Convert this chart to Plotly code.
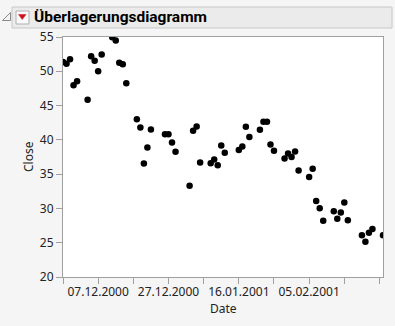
import plotly.graph_objects as go

# ---- data ----
dates = [
    "2000-11-27", "2000-11-28", "2000-11-29", "2000-11-30", "2000-12-01",
    "2000-12-04", "2000-12-05", "2000-12-06", "2000-12-07", "2000-12-08",
    "2000-12-11", "2000-12-12", "2000-12-13", "2000-12-14", "2000-12-15",
    "2000-12-18", "2000-12-19", "2000-12-20", "2000-12-21", "2000-12-22",
    "2000-12-26", "2000-12-27", "2000-12-28", "2000-12-29",
    "2001-01-02", "2001-01-03", "2001-01-04", "2001-01-05",
    "2001-01-08", "2001-01-09", "2001-01-10", "2001-01-11", "2001-01-12",
    "2001-01-16", "2001-01-17", "2001-01-18", "2001-01-19",
    "2001-01-22", "2001-01-23", "2001-01-24", "2001-01-25", "2001-01-26",
    "2001-01-29", "2001-01-30", "2001-01-31", "2001-02-01", "2001-02-02",
    "2001-02-05", "2001-02-06", "2001-02-07", "2001-02-08", "2001-02-09",
    "2001-02-12", "2001-02-13", "2001-02-14", "2001-02-15", "2001-02-16",
    "2001-02-20", "2001-02-21", "2001-02-22", "2001-02-23",
    "2001-02-26",
]
close = [
    51.35, 51.10, 51.75, 47.95, 48.54,
    45.86, 52.19, 51.52, 50.00, 52.44,
    54.95, 54.50, 51.23, 51.02, 48.25,
    43.00, 41.81, 36.55, 38.89, 41.52,
    40.80, 40.80, 39.62, 38.26,
    33.29, 41.33, 41.96, 36.70,
    36.60, 37.13, 36.30, 39.18, 38.11,
    38.51, 39.04, 41.92, 40.41,
    41.48, 42.65, 42.65, 39.33, 38.41,
    37.28, 38.01, 37.49, 38.30, 35.53,
    34.60, 35.77, 31.10, 30.03, 28.22,
    29.59, 28.51, 29.39, 30.85, 28.27,
    26.08, 25.15, 26.46, 27.00,
    26.08,
]
x_tick_vals = ["2000-11-27", "2000-12-07", "2000-12-17", "2000-12-27", "2001-01-06",
               "2001-01-16", "2001-01-26", "2001-02-05", "2001-02-15", "2001-02-25"]
x_tick_text = ["", "07.12.2000", "", "27.12.2000", "",
               "16.01.2001", "", "05.02.2001", "", ""]
y_tick_vals = [20, 25, 30, 35, 40, 45, 50, 55]
title_text = "Überlagerungsdiagramm"
x_title = "Date"
y_title = "Close"

W, H = 395, 326
L, R, T, B = 63, 12, 37, 49
PW, PH = W - L - R, H - T - B


def px(xp):
    return (xp - L) / PW


def py(yp):
    return (H - B - yp) / PH


FONT = "Noto Sans, Segoe UI, sans-serif"
TFONT = "Roboto, Noto Sans, sans-serif"
AXC = "#a0a0a0"

fig = go.Figure()
fig.add_trace(go.Scatter(
    x=dates, y=close, mode="markers",
    marker=dict(color="black", size=6.5, line=dict(width=0)),
    hoverinfo="x+y",
))

shapes = [
    # title bar
    dict(type="rect", xref="paper", yref="paper",
         x0=px(12), x1=px(392), y0=py(28), y1=py(7),
         fillcolor="#ebebeb", line=dict(color="#c8c8c8", width=1)),
    # disclosure triangle
    dict(type="path", xref="paper", yref="paper",
         path=f"M {px(10.5)} {py(12.5)} L {px(10.5)} {py(20.5)} L {px(2.5)} {py(20.5)} Z",
         fillcolor="#f4f4f4", line=dict(color="#8a8a8a", width=1)),
    # red menu button box
    dict(type="rect", xref="paper", yref="paper",
         x0=px(16), x1=px(29), y0=py(24), y1=py(11),
         fillcolor="#fafafa", line=dict(color="#b0b0b0", width=1)),
    # red triangle
    dict(type="path", xref="paper", yref="paper",
         path=f"M {px(18.5)} {py(14.5)} L {px(26)} {py(14.5)} L {px(22.25)} {py(19.5)} Z",
         fillcolor="#d0101a", line=dict(color="#d0101a", width=0.5)),
]

annotations = [
    dict(text=f"<b>{title_text}</b>", xref="paper", yref="paper",
         x=px(31.5), y=py(17.5), xanchor="left", yanchor="middle",
         showarrow=False, font=dict(family=TFONT, size=15.5, color="black")),
    dict(text=x_title, xref="paper", yref="paper",
         x=0.5, y=py(308), xanchor="center", yanchor="middle",
         showarrow=False, font=dict(family=FONT, size=12, color="#222")),
    dict(text=y_title, xref="paper", yref="paper",
         x=px(28), y=0.5, xanchor="center", yanchor="middle", textangle=-90,
         showarrow=False, font=dict(family=FONT, size=12, color="#222")),
]

fig.update_layout(
    width=W, height=H, autosize=False,
    margin=dict(l=L, r=R, t=T, b=B, pad=0),
    paper_bgcolor="#f5f5f5", plot_bgcolor="white",
    showlegend=False,
    shapes=shapes, annotations=annotations,
    font=dict(family=FONT, size=12, color="#222"),
    xaxis=dict(
        type="date", range=["2000-11-27", "2001-02-26"],
        tickmode="array", tickvals=x_tick_vals, ticktext=x_tick_text,
        ticks="outside", ticklen=6, tickcolor=AXC, tickwidth=1,
        ticklabelstandoff=-2,
        showline=True, linecolor=AXC, linewidth=1, mirror=True,
        showgrid=False, zeroline=False,
        tickfont=dict(family=FONT, size=12, color="#222"),
    ),
    yaxis=dict(
        range=[20, 55], tickmode="array", tickvals=y_tick_vals,
        ticks="outside", ticklen=6, tickcolor=AXC, tickwidth=1,
        showline=True, linecolor=AXC, linewidth=1, mirror=True,
        showgrid=False, zeroline=False,
        tickfont=dict(family=FONT, size=12, color="#222"),
    ),
)

fig.write_html("out.html")
